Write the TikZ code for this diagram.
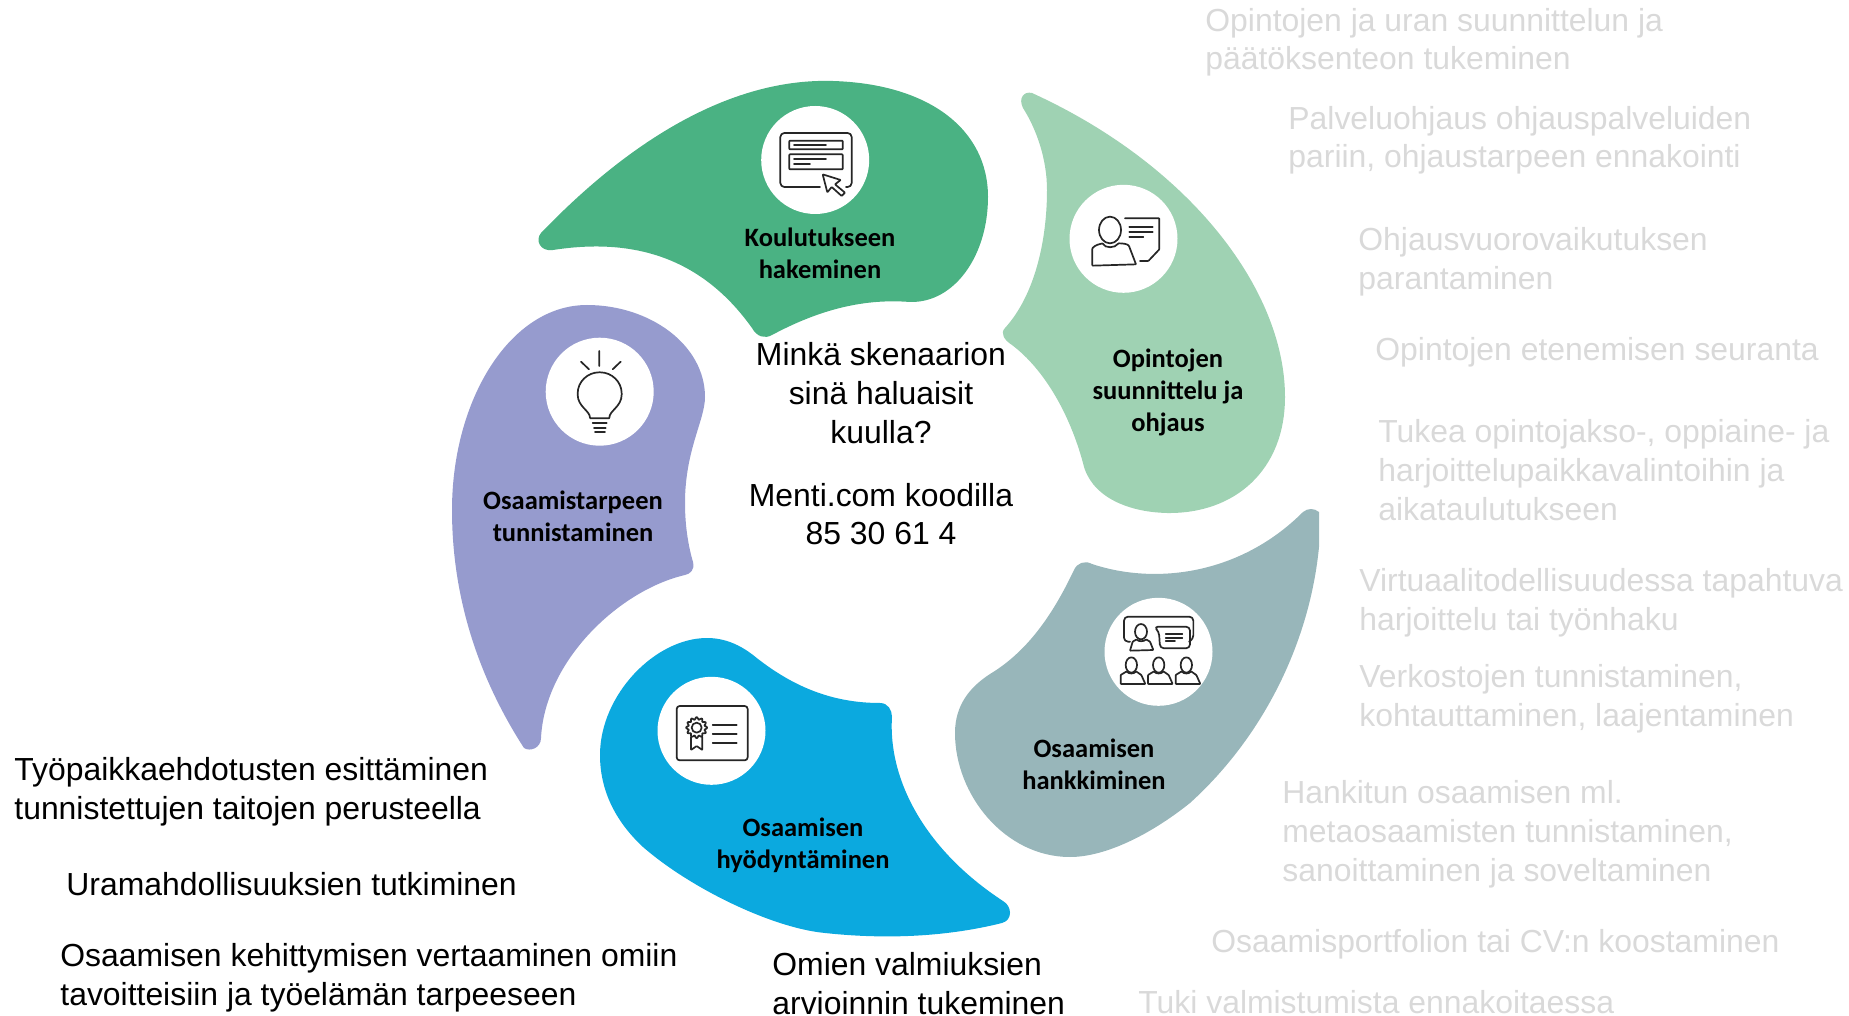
\documentclass[tikz,border=0pt]{standalone}
\usepackage{fontspec}
\setmainfont{Liberation Sans}
\newfontfamily\lblfont{Carlito}[BoldFont={Carlito Bold}]
\definecolor{cGreen}{HTML}{4AB283}
\definecolor{cLight}{HTML}{9FD2B3}
\definecolor{cTeal}{HTML}{98B6BA}
\definecolor{cBlue}{HTML}{0BA9DF}
\definecolor{cPurple}{HTML}{969BCE}
\definecolor{cGrey}{HTML}{D9D9D9}
\definecolor{cIcon}{HTML}{262626}
\tikzset{
  disc/.style={circle,fill=white,inner sep=0pt,minimum size=54pt},
  lbl/.style={font=\lblfont\bfseries\fontsize{13.25}{16}\selectfont,align=center,anchor=base,inner sep=0pt,text=black},
  body/.style={font=\fontsize{15.95}{19.45}\selectfont,align=left,anchor=base west,inner sep=0pt,text=black},
  faint/.style={body,text=cGrey},
  central/.style={font=\fontsize{15.95}{19.45}\selectfont,align=center,anchor=base,inner sep=0pt,text=black},
  icon/.style={draw=cIcon,line width=0.85pt,line join=round,line cap=round,rounded corners=0.3pt},
  zoomed/.style={x=0.16667pt,y=-0.16667pt}
}
\begin{document}
\begin{tikzpicture}[x=0.5pt,y=-0.5pt]
\useasboundingbox (0,0) rectangle (1849,1016);
% blobs
\fill[cGreen] (541,233) .. controls (640,130) and (740,78) .. (833,81)
  .. controls (930,84) and (988,130) .. (988,197)
  .. controls (988,255) and (955,303) .. (910,302)
  .. controls (860,298) and (815,312) .. (772,335)
  .. controls (765,339) and (757,337) .. (752,328)
  .. controls (700,255) and (630,238) .. (553,250)
  .. controls (540,252) and (535,240) .. (541,233) -- cycle;
\fill[cLight] (1023,108) .. controls (1018,98) and (1024,91) .. (1032,93)
  .. controls (1190,165) and (1285,290) .. (1285,397)
  .. controls (1285,470) and (1235,514) .. (1167,513)
  .. controls (1125,512) and (1090,495) .. (1083,463)
  .. controls (1070,415) and (1045,370) .. (1012,345)
  .. controls (1004,340) and (1000,333) .. (1005,328)
  .. controls (1035,295) and (1047,240) .. (1047,190)
  .. controls (1047,160) and (1037,130) .. (1023,108) -- cycle;
\fill[cTeal] (1303,512) .. controls (1308,508) and (1314,508) .. (1319,512)
  -- (1319,547)
  .. controls (1310,640) and (1265,735) .. (1190,803)
  .. controls (1150,835) and (1105,857) .. (1070,857)
  .. controls (1005,857) and (955,795) .. (955,733)
  .. controls (955,705) and (970,687) .. (990,674)
  .. controls (1030,650) and (1055,610) .. (1074,570)
  .. controls (1077,563) and (1085,560) .. (1092,564)
  .. controls (1155,585) and (1240,575) .. (1303,512) -- cycle;
\fill[cBlue] (707,638) .. controls (725,638) and (740,645) .. (753,655)
  .. controls (790,685) and (830,703) .. (880,703)
  .. controls (888,703) and (892,710) .. (892,717)
  .. controls (888,780) and (925,850) .. (1003,901)
  .. controls (1012,906) and (1013,920) .. (1002,923)
  .. controls (950,936) and (890,940) .. (825,933)
  .. controls (772,928) and (690,888) .. (643,847)
  .. controls (615,821) and (600,790) .. (600,755)
  .. controls (600,695) and (655,638) .. (707,638) -- cycle;
\fill[cPurple] (587,305) .. controls (650,305) and (705,345) .. (705,397)
  .. controls (705,420) and (685,450) .. (685,503)
  .. controls (685,525) and (688,545) .. (693,562)
  .. controls (695,570) and (690,574) .. (685,575)
  .. controls (620,590) and (545,660) .. (541,738)
  .. controls (541,748) and (530,752) .. (524,748)
  .. controls (480,680) and (452,600) .. (452,510)
  .. controls (452,400) and (510,305) .. (587,305) -- cycle;
% discs
\node[disc] (d1) at (815.2,160) {};
\node[disc] (d2) at (1123.5,238.8) {};
\node[disc] (d3) at (1158.5,651.8) {};
\node[disc] (d4) at (711.5,730.8) {};
\node[disc] (d5) at (599.7,391.7) {};
% icon: form
\begin{scope}[shift={(520,60)},zoomed]
\draw[icon] (900,381) -- (795,381) [rounded corners=2pt] -- (781,381) -- (781,219) -- (995,219) -- (995,381) -- (978,381);
\draw[icon] (808,242) rectangle (968,268);
\draw[icon] (808,283) rectangle (968,328);
\draw[icon] (822,255) -- (918,255) (822,297) -- (918,297) (822,312) -- (870,312);
\draw[icon] (908,343) -- (962,360) -- (945,373) -- (975,398) -- (965,408) -- (935,381) -- (922,397) -- cycle;
\end{scope}
% icon: adviser
\begin{scope}[shift={(1000,80)},zoomed]
\draw[icon] (330,450) ellipse (33 and 40);
\draw[icon] (277,557) -- (277,505) .. controls (285,495) and (300,492) .. (308,490) .. controls (315,505) and (345,505) .. (355,490) .. controls (370,490) and (382,492) .. (387,498) -- (408,553) -- cycle;
\draw[icon] (375,415) -- (478,415) -- (478,508) -- (445,543) -- (420,543);
\draw[icon] (388,440) -- (458,440) (388,455) -- (458,455) (388,470) -- (430,470);
\end{scope}
% icon: audience
\begin{scope}[shift={(940,500)},zoomed]
\draw[icon] (570,425) [rounded corners=2pt] -- (552,425) -- (552,350) -- (760,350) -- (760,418) -- (747,425);
\draw[icon,rounded corners=2pt] (642,380) -- (750,380) -- (750,445) -- (660,445) -- (657,395) -- cycle;
\draw[icon] (677,403) -- (727,403) (677,413) -- (727,413) (677,423) -- (705,423);
\draw[icon] (603,395) ellipse (18 and 23);
\draw[icon] (570,452) -- (578,425) -- (590,418) .. controls (595,425) and (612,425) .. (618,418) -- (630,425) -- (640,450) -- cycle;
\foreach \cx in {574,656,739} {
  \draw[icon] (\cx,495) ellipse (17 and 23);
  \draw[icon] ({\cx-32},552) -- ({\cx-32},525) -- ({\cx-14},514) .. controls ({\cx-8},522) and ({\cx+8},522) .. ({\cx+14},514) -- ({\cx+30},525) -- ({\cx+42},552) -- cycle;
}
\end{scope}
% icon: certificate
\begin{scope}[shift={(580,620)},zoomed]
\draw[icon,rounded corners=1.5pt] (290,258) rectangle (503,421);
\draw[icon] (398,316) -- (470,316) (398,343) -- (470,343) (398,370) -- (470,370);
\draw[icon] plot[domain=0:360,samples=97,smooth] ({350+(28+3*cos(12*\x))*cos(\x)},{323+(28+3*cos(12*\x))*sin(\x)}) -- cycle;
\draw[icon] (350,323) circle (15);
\draw[icon] (333,352) -- (333,390) -- (350,378) -- (367,390) -- (367,352);
\end{scope}
% icon: bulb
\begin{scope}[shift={(440,290)},zoomed]
\draw[icon] (478,183) -- (478,228) (423,215) -- (447,238) (542,215) -- (518,238);
\draw[icon] (450,385) -- (508,385) .. controls (508,362) and (545,350) .. (545,312) .. controls (545,275) and (515,247) .. (479,247) .. controls (443,247) and (413,275) .. (413,312) .. controls (413,350) and (450,362) .. (450,385) -- cycle;
\draw[icon] (458,400) -- (500,400) (462,413) -- (497,413) (465,427) -- (495,427);
\end{scope}
% blob labels
\node[lbl] (t1) at (820,279) {Koulutukseen\\hakeminen};
\node[lbl] (t2) at (1168,431.5) {Opintojen\\suunnittelu ja\\ohjaus};
\node[lbl] (t3) at (1094,789) {Osaamisen\\hankkiminen};
\node[lbl] (t4) at (803,868) {Osaamisen\\hyödyntäminen};
\node[lbl] (t5) at (573,541) {Osaamistarpeen\\tunnistaminen};
% centre
\node[central] (c) at (881,545) {Minkä skenaarion\\sinä haluaisit\\kuulla?\\[11.8pt]Menti.com koodilla\\85 30 61 4};
% faint texts
\node[faint] (f1) at (1205,70) {Opintojen ja uran suunnittelun ja\\päätöksenteon tukeminen};
\node[faint] (f2) at (1288,168) {Palveluohjaus ohjauspalveluiden\\pariin, ohjaustarpeen ennakointi};
\node[faint] (f3) at (1358,289.5) {Ohjausvuorovaikutuksen\\parantaminen};
\node[faint] (f4) at (1375,360.5) {Opintojen etenemisen seuranta};
\node[faint] (f5) at (1378,520.5) {Tukea opintojakso-, oppiaine- ja\\harjoittelupaikkavalintoihin ja\\aikataulutukseen};
\node[faint] (f6) at (1359,630.5) {Virtuaalitodellisuudessa tapahtuva\\harjoittelu tai työnhaku};
\node[faint] (f7) at (1359,726.5) {Verkostojen tunnistaminen,\\kohtauttaminen, laajentaminen};
\node[faint] (f8) at (1282,881.5) {Hankitun osaamisen ml.\\metaosaamisten tunnistaminen,\\sanoittaminen ja soveltaminen};
\node[faint] (f9) at (1211,952) {Osaamisportfolion tai CV:n koostaminen};
\node[faint] (f10) at (1138,1013.8) {Tuki valmistumista ennakoitaessa};
% black texts
\node[body] (b1) at (14,819) {Työpaikkaehdotusten esittäminen\\tunnistettujen taitojen perusteella};
\node[body] (b2) at (66,895) {Uramahdollisuuksien tutkiminen};
\node[body] (b3) at (60,1005) {Osaamisen kehittymisen vertaaminen omiin\\tavoitteisiin ja työelämän tarpeeseen};
\node[body] (b4) at (772,1014) {Omien valmiuksien\\arvioinnin tukeminen};
\end{tikzpicture}
\end{document}
